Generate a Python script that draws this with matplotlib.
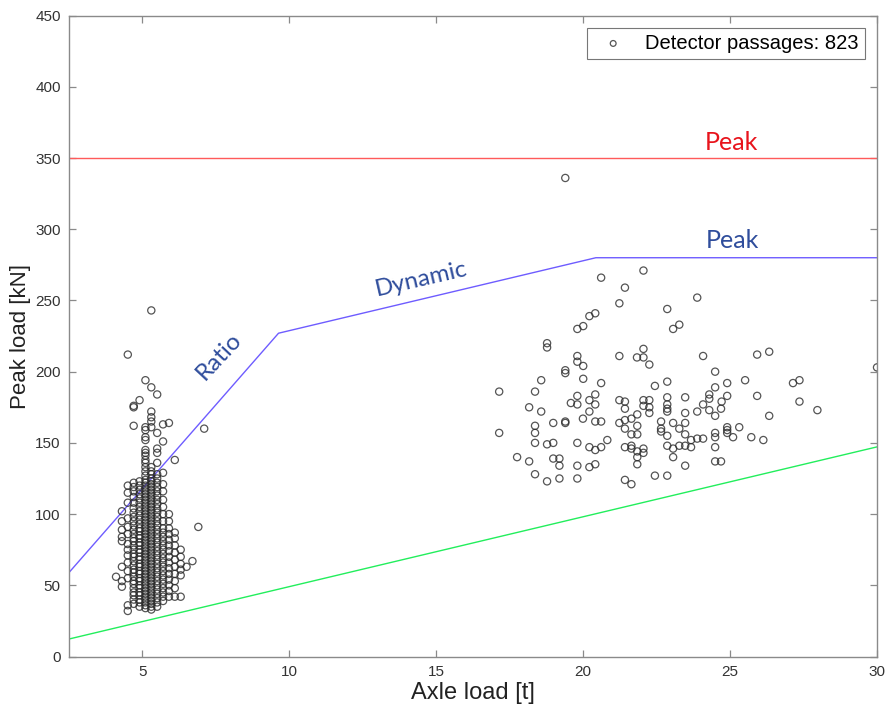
import matplotlib
matplotlib.use("Agg")
import matplotlib.pyplot as plt
import numpy as np

# ---- measured passages: light axles (left group), columns of axle load [t] ----
light_cols = [4.1, 4.3, 4.5, 4.7, 4.9, 5.1, 5.3, 5.5, 5.7, 5.9, 6.1, 6.3, 6.5, 6.7, 6.9, 7.1]
light_loads = [
    [56],
    [102, 95, 89, 84, 81, 63, 53, 49],
    [212, 120, 115, 108, 97, 91, 86, 79, 75, 71, 66, 60, 55, 36, 32],
    [37, 40, 43, 45, 48, 51, 53, 56, 59, 61, 64, 67, 70, 72, 75, 78, 81, 83, 86, 89,
     92, 95, 98, 101, 104, 108, 112, 116, 119, 122, 162, 175, 176],
    [35, 38, 40, 43, 45, 48, 50, 53, 55, 58, 60, 63, 65, 68, 70, 73, 75, 78, 80, 83,
     85, 88, 90, 93, 96, 99, 102, 105, 108, 111, 114, 117, 120, 123, 180],
    [34, 36, 38, 40, 42, 44, 46, 48, 50, 52, 54, 56, 58, 60, 62, 64, 66, 68, 70, 72,
     74, 76, 78, 80, 82, 84, 86, 88, 90, 92, 94, 96, 98, 100, 102, 104, 106, 108, 110,
     112, 114, 116, 118, 120, 122, 124, 127, 130, 133, 136, 138, 141, 143, 145, 152,
     154, 159, 161, 194],
    [33, 35, 37, 39, 41, 43, 45, 47, 49, 51, 53, 55, 57, 59, 61, 63, 65, 67, 69, 71,
     73, 75, 77, 79, 81, 83, 85, 87, 89, 91, 93, 95, 97, 99, 101, 103, 105, 107, 109,
     111, 113, 115, 117, 119, 121, 123, 125, 128, 130, 133, 161, 165, 168, 172, 189, 243],
    [35, 38, 41, 44, 47, 50, 53, 56, 59, 62, 65, 68, 71, 74, 77, 80, 83, 86, 89, 92,
     95, 98, 101, 104, 107, 110, 113, 116, 119, 122, 125, 128, 136, 143, 146, 157, 184],
    [39, 42, 45, 48, 51, 54, 57, 60, 63, 66, 69, 72, 75, 78, 81, 84, 87, 90, 95, 100,
     105, 110, 116, 121, 129, 151, 163],
    [42, 46, 50, 54, 58, 62, 66, 70, 74, 78, 82, 86, 90, 95, 100, 164],
    [42, 48, 53, 58, 63, 68, 73, 78, 83, 87, 138],
    [42, 57, 61, 65, 70, 75],
    [63],
    [67],
    [91],
    [160],
]

# ---- measured passages: heavy axles (right group) ----
heavy_axle = [
    19.39, 22.05, 20.61, 21.42, 21.23, 22.86, 20.41, 20.21, 20.00, 19.80, 23.06, 23.27,
    18.77, 18.77, 22.05, 19.80, 19.80, 21.23, 21.83, 22.05, 22.25, 20.00, 19.39, 19.39,
    20.00, 18.57, 20.61, 22.86, 22.44, 17.14, 18.36, 20.41, 19.80, 18.16, 18.57, 19.58,
    19.80, 20.21, 20.41, 20.21, 21.23, 21.42, 21.42, 22.05, 22.25, 22.05, 22.25, 22.25,
    22.86, 22.86, 22.86, 22.86, 19.99, 19.39, 19.39, 18.98, 20.41, 20.61, 18.36, 18.36,
    18.36, 17.14, 21.23, 21.42, 21.64, 21.84, 21.42, 21.64, 21.84, 21.84, 22.65, 22.65,
    22.65, 23.06, 22.86, 23.27, 20.82, 20.61, 20.41, 20.21, 19.80, 18.77, 18.98, 17.75,
    18.16, 18.98, 19.19, 19.19, 18.36, 18.77, 19.19, 19.80, 19.80, 20.21, 20.41, 21.42,
    21.64, 21.64, 21.84, 22.05, 22.05, 21.84, 21.84, 21.42, 21.64, 22.44, 22.86, 22.86,
    23.06, 23.06, 23.27,
    23.88, 24.08, 25.92, 26.33, 24.49, 24.90, 25.51, 27.14, 27.36, 24.49, 24.29, 24.29,
    24.90, 25.92, 23.47, 24.08, 24.71, 27.36, 27.97, 23.88, 24.29, 24.69, 24.49, 26.33,
    23.47, 23.47, 23.47, 23.67, 23.88, 24.08, 24.49, 24.49, 24.49, 24.90, 24.90, 24.90,
    25.10, 25.31, 25.72, 26.13, 23.47, 23.67, 23.47, 24.49, 24.69, 30.00,
]
heavy_peak = [
    336, 271, 266, 259, 248, 244, 241, 239, 232, 230, 230, 233,
    220, 217, 216, 211, 207, 211, 210, 210, 205, 204, 201, 199,
    195, 194, 192, 193, 190, 186, 186, 184, 183, 175, 172, 178,
    177, 180, 177, 172, 180, 179, 174, 180, 180, 176, 175, 171,
    182, 177, 174, 172, 167, 165, 164, 164, 165, 165, 162, 157,
    150, 157, 164, 166, 167, 170, 160, 156, 156, 162, 165, 160,
    158, 164, 155, 160, 152, 147, 145, 147, 150, 149, 150, 140,
    137, 139, 139, 134, 128, 123, 125, 134, 125, 133, 135, 147,
    148, 146, 144, 146, 143, 140, 135, 124, 121, 127, 127, 148,
    146, 140, 148,
    252, 211, 212, 214, 200, 192, 194, 192, 194, 189, 184, 181,
    183, 183, 182, 177, 179, 179, 173, 172, 173, 174, 169, 169,
    171, 164, 156, 152, 153, 153, 157, 154, 147, 161, 159, 157,
    154, 161, 154, 152, 148, 147, 134, 137, 137, 203,
]

n_passages = 823

# ---- limit curves ----
peak_limit = 350                     # kN, absolute peak
dyn_x = [2.5, 9.63, 20.43, 30.0]     # t
dyn_y = [59.0, 227.0, 280.0, 280.0]  # kN, ratio -> dynamic -> peak
low_x = [2.5, 30.0]
low_y = [12.3, 147.2]

xs = np.concatenate([np.full(len(v), c) for c, v in zip(light_cols, light_loads)]
                    + [np.array(heavy_axle)])
ys = np.concatenate([np.array(v, dtype=float) for v in light_loads]
                    + [np.array(heavy_peak, dtype=float)])

fig = plt.figure(figsize=(8.85, 7.09), dpi=100)
ax = fig.add_axes([0.078, 0.074, 0.913, 0.904])

ax.scatter(xs, ys, s=27, facecolors="none", edgecolors="#2a2a2a",
           linewidths=0.9, alpha=0.8, zorder=3,
           label=f"Detector passages: {n_passages}")

ax.axhline(peak_limit, color="#ff5a5a", lw=1.0, zorder=2)
ax.plot(dyn_x, dyn_y, color="#6e5cff", lw=1.0, zorder=2)
ax.plot(low_x, low_y, color="#22ee5c", lw=1.0, zorder=2)

lab_font = "Lato"
ax.text(25.05, 361, "Peak", color="#e8141c", fontsize=18, family=lab_font,
        ha="center", va="center")
ax.text(25.07, 292, "Peak", color="#2f4d9c", fontsize=18, family=lab_font,
        ha="center", va="center")
ax.text(14.5, 265, "Dynamic", color="#2f4d9c", fontsize=17.5, family=lab_font,
        ha="center", va="center", rotation=13)
ax.text(7.6, 211, "Ratio", color="#2f4d9c", fontsize=17.5, family=lab_font,
        ha="center", va="center", rotation=47)

ax.set_xlim(2.5, 30)
ax.set_ylim(0, 450)
ax.set_xticks([5, 10, 15, 20, 25, 30])
ax.set_yticks(np.arange(0, 451, 50))

tick_font = "Liberation Sans"
for lbl in ax.get_xticklabels() + ax.get_yticklabels():
    lbl.set_family(tick_font)
ax.tick_params(direction="in", length=5, width=0.9, color="#8a8a8a",
               labelsize=11, labelcolor="#333333", top=True, right=True, pad=6)
for sp in ax.spines.values():
    sp.set_color("#8a8a8a")
    sp.set_linewidth(1.0)

ax.set_xlabel("Axle load [t]", fontsize=17, family=tick_font, color="#222222",
              labelpad=2)
ax.set_ylabel("Peak load [kN]", fontsize=16, family=tick_font, color="#222222",
              labelpad=3)

leg = ax.legend(loc="upper right", fancybox=False, frameon=True,
                prop={"family": tick_font, "size": 14.5},
                handletextpad=0.6, borderpad=0.3, borderaxespad=0.6,
                markerscale=0.8)
leg.get_frame().set_edgecolor("#555555")
leg.get_frame().set_linewidth(0.8)

fig.savefig("out.png", dpi=100)
